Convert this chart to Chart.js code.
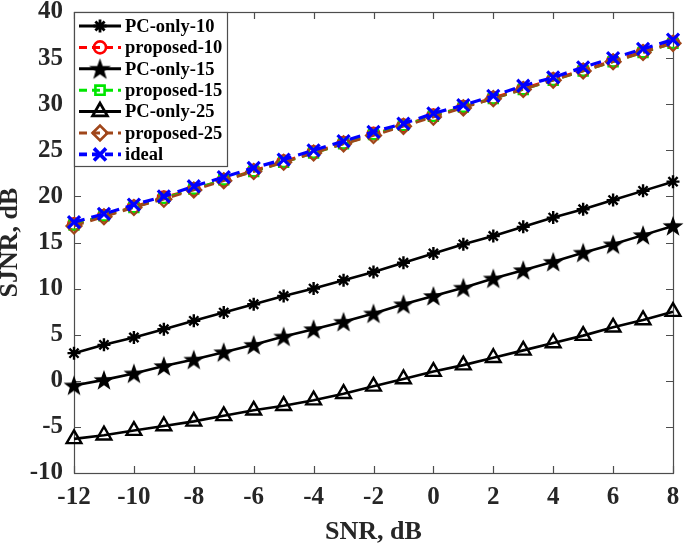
<!DOCTYPE html>
<html><head><meta charset="utf-8">
<script src="https://cdn.jsdelivr.net/npm/chart.js@4/dist/chart.umd.min.js"></script>
<style>html,body{margin:0;padding:0;background:#fff}</style>
</head><body>
<canvas id="c" width="685" height="545" style="display:block;width:685px;height:545px"></canvas>
<script>
const snr = [-12,-11,-10,-9,-8,-7,-6,-5,-4,-3,-2,-1,0,1,2,3,4,5,6,7,8];
const pcOnly10 = [3.0,3.9,4.7,5.6,6.5,7.4,8.3,9.2,10.0,10.9,11.8,12.8,13.8,14.8,15.7,16.7,17.7,18.6,19.6,20.6,21.6];
const proposed10 = [17.0,17.9,18.9,19.9,20.8,21.8,22.8,23.8,24.8,25.8,26.8,27.7,28.8,29.7,30.7,31.7,32.7,33.7,34.7,35.7,36.7];
const pcOnly15 = [-0.5,0.1,0.8,1.6,2.3,3.1,3.9,4.8,5.6,6.4,7.3,8.3,9.2,10.1,11.1,12.0,12.9,13.9,14.8,15.8,16.8];
const proposed15 = [16.9,17.9,18.8,19.8,20.8,21.8,22.7,23.7,24.7,25.7,26.7,27.7,28.7,29.7,30.6,31.6,32.6,33.6,34.6,35.6,36.6];
const pcOnly25 = [-6.3,-5.9,-5.4,-4.9,-4.4,-3.8,-3.2,-2.7,-2.1,-1.4,-0.6,0.2,1.0,1.7,2.5,3.3,4.1,4.9,5.8,6.6,7.5];
const proposed25 = [16.8,17.8,18.8,19.7,20.7,21.7,22.7,23.7,24.7,25.7,26.6,27.6,28.6,29.6,30.6,31.6,32.6,33.6,34.6,35.6,36.6];
const ideal = [17.2,18.1,19.1,20.0,21.1,22.1,23.1,24.0,25.0,26.0,27.0,27.9,29.0,29.9,30.9,32.0,32.9,34.0,35.0,36.0,37.0];
const seriesNames = ['PC-only-10','proposed-10','PC-only-15','proposed-15','PC-only-25','proposed-25','ideal'];
const xTicks = [-12,-10,-8,-6,-4,-2,0,2,4,6,8];
const yTicks = [-10,-5,0,5,10,15,20,25,30,35,40];

function pentagram(R, color){
  const s = Math.ceil(2*R+2);
  const c = document.createElement('canvas'); c.width = s; c.height = s;
  const g = c.getContext('2d');
  g.beginPath();
  for (let i=0;i<10;i++){
    const r = i%2 ? R*0.40 : R;
    const a = -Math.PI/2 + i*Math.PI/5;
    g.lineTo(s/2 + r*Math.cos(a), s/2 + r*Math.sin(a) + R*0.08);
  }
  g.closePath(); g.fillStyle = color; g.fill();
  return c;
}
const starImg = pentagram(11, '#000');
const starImgLeg = pentagram(11.5, '#000');

function pts(arr){ return snr.map((x,i)=>({x:x, y:arr[i]})); }

const styles = [
  {data:pcOnly10, color:'#000000', dash:[], style:'star', r:6.5, bw:2.4, lw:2.6, leg:'star'},
  {data:proposed10, color:'#ff0000', dash:[10,7], style:'circle', r:6, bw:2.2, lw:2.6, leg:'circle'},
  {data:pcOnly15, color:'#000000', dash:[], style:starImg, r:10, bw:2, lw:2.6, leg:starImgLeg},
  {data:proposed15, color:'#00e600', dash:[10,7], style:'rect', r:6.5, bw:2.2, lw:2.6, leg:'rect'},
  {data:pcOnly25, color:'#000000', dash:[], style:'triangle', r:8.5, bw:2.4, lw:2.6, leg:'triangle'},
  {data:proposed25, color:'#a0461a', dash:[10,7], style:'rectRot', r:7.5, bw:2.2, lw:2.6, leg:'rectRot'},
  {data:ideal, color:'#0000ff', dash:[11,7], style:'crossRot', r:8.5, bw:3.2, lw:3.2, leg:'crossRot'}
];

const datasets = styles.map((s,i)=>({
  label: seriesNames[i],
  data: pts(s.data),
  borderColor: s.color,
  backgroundColor: 'rgba(0,0,0,0)',
  borderWidth: s.lw,
  borderDash: s.dash,
  pointStyle: s.style,
  pointRadius: s.r,
  pointBorderWidth: s.bw,
  pointBorderColor: s.color,
  pointBackgroundColor: 'rgba(0,0,0,0)',
  tension: 0,
  clip: false,
  order: 6 - i
}));

const FONT = '"Liberation Serif", "Times New Roman", serif';
const AXC = '#262626';

const boxPlugin = {
  id: 'box',
  beforeDatasetsDraw(chart){
    const {ctx, chartArea:a, scales} = chart;
    ctx.save();
    ctx.strokeStyle = '#4d4d4d'; ctx.lineWidth = 1.2;
    ctx.strokeRect(a.left+0.5, a.top+0.5, a.right-a.left, a.bottom-a.top);
    ctx.beginPath();
    const tl = 7;
    xTicks.forEach(v=>{
      const px = Math.round(scales.x.getPixelForValue(v))+0.5;
      ctx.moveTo(px, a.bottom); ctx.lineTo(px, a.bottom-tl);
      ctx.moveTo(px, a.top); ctx.lineTo(px, a.top+tl);
    });
    yTicks.forEach(v=>{
      const py = Math.round(scales.y.getPixelForValue(v))+0.5;
      ctx.moveTo(a.left, py); ctx.lineTo(a.left+tl, py);
      ctx.moveTo(a.right, py); ctx.lineTo(a.right-tl, py);
    });
    ctx.stroke();
    ctx.restore();
  }
};

const legendPlugin = {
  id: 'mlegend',
  afterDatasetsDraw(chart){
    const {ctx, chartArea:a} = chart;
    const x0 = a.left, y0 = a.top, w = 153, h = 154;
    ctx.save();
    ctx.fillStyle = '#fff';
    ctx.fillRect(x0, y0, w, h);
    ctx.strokeStyle = '#4d4d4d'; ctx.lineWidth = 1.2;
    ctx.strokeRect(x0+0.5, y0+0.5, w, h);
    ctx.font = 'bold 18.5px ' + FONT;
    ctx.textBaseline = 'middle';
    ctx.textAlign = 'left';
    styles.forEach((s,i)=>{
      const cy = y0 + 14 + i*21.4;
      ctx.save();
      ctx.strokeStyle = s.color; ctx.lineWidth = s.lw + 0.4;
      ctx.setLineDash(s.dash.length ? [8,5] : []);
      ctx.beginPath(); ctx.moveTo(x0+5, cy); ctx.lineTo(x0+47, cy); ctx.stroke();
      ctx.setLineDash([]);
      ctx.strokeStyle = s.color; ctx.fillStyle = 'rgba(0,0,0,0)';
      ctx.lineWidth = s.bw + 0.4;
      Chart.helpers.drawPoint(ctx, {pointStyle: s.leg, rotation: 0, radius: s.r, borderWidth: s.bw + 0.4}, x0+26, cy);
      ctx.restore();
      ctx.fillStyle = '#000';
      ctx.fillText(seriesNames[i], x0+51, cy+1);
    });
    ctx.restore();
  }
};

new Chart(document.getElementById('c'), {
  type: 'line',
  data: { datasets },
  plugins: [boxPlugin, legendPlugin],
  options: {
    responsive: false,
    animation: false,
    devicePixelRatio: 1,
    layout: { padding: { top: 8, right: 9, left: 0, bottom: 0 } },
    plugins: { legend: { display: false }, tooltip: { enabled: false } },
    scales: {
      x: {
        type: 'linear', min: -12, max: 8,
        afterFit(s){ s.height = 72; s.paddingLeft = 0; s.paddingRight = 0; },
        afterBuildTicks(s){ s.ticks = xTicks.map(v=>({value:v})); },
        grid: { display: false, drawTicks: false },
        border: { display: false },
        ticks: { font: { family: FONT, size: 25, weight: 'bold' }, color: AXC, padding: 10, maxRotation: 0, autoSkip: false },
        title: { display: true, text: 'SNR, dB', color: AXC, font: { family: FONT, size: 26, weight: 'bold', lineHeight: 1.0 }, padding: { top: 0, bottom: 0 } }
      },
      y: {
        type: 'linear', min: -10, max: 40,
        afterFit(s){ s.width = 74; s.paddingTop = 0; s.paddingBottom = 0; },
        afterBuildTicks(s){ s.ticks = yTicks.map(v=>({value:v})); },
        grid: { display: false, drawTicks: false },
        border: { display: false },
        ticks: { font: { family: FONT, size: 25, weight: 'bold' }, color: AXC, padding: 11, autoSkip: false },
        title: { display: true, text: 'SJNR, dB', color: AXC, font: { family: FONT, size: 26, weight: 'bold', lineHeight: 0.8 }, padding: { top: 0, bottom: 0 } }
      }
    }
  }
});
</script>
</body></html>
